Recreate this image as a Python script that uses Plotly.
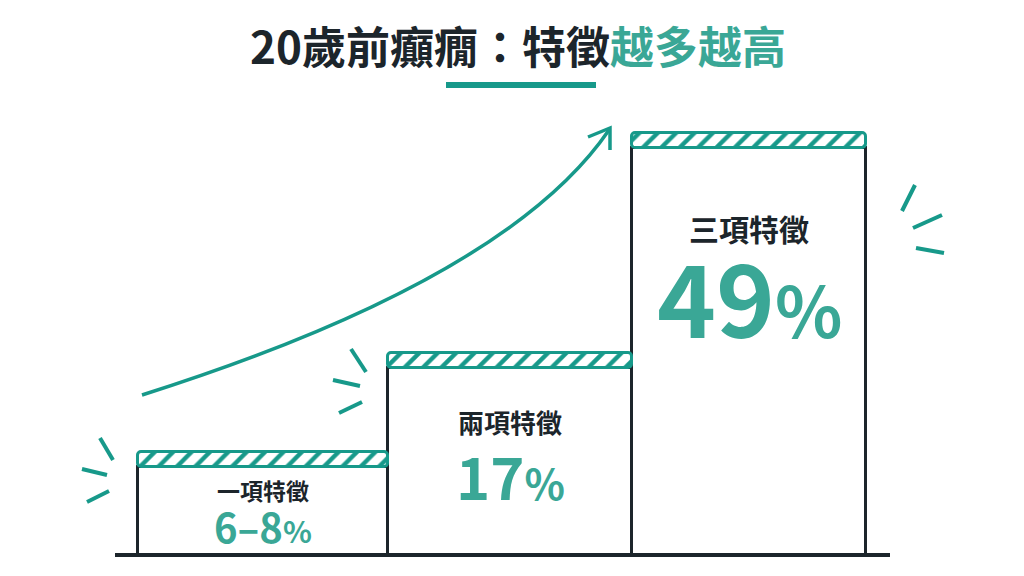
import plotly.graph_objects as go

# ---- data ----
categories = ["一項特徵", "兩項特徵", "三項特徵"]
value_labels = ["6–8", "17", "49"]
step_heights = [103, 202, 422]          # visual step heights (picture units)
title_dark = "20歲前癲癇：特徵"
title_teal = "越多越高"

# ---- style / layout constants ----
W, H = 1024, 576
BASE_PY = 555                           # baseline pixel row
DARK = "#1c252b"
TEAL = "#17998a"
TEAL_TXT = "#3aa796"
FONT = "Noto Sans CJK TC"
bar_edges = [138, 388, 632, 866]
cap_h = 15
label_offsets = [38, 68, 95]
value_offsets = [74, 122, 161]
label_sizes = [23, 26, 30]
digit_sizes = [40, 58, 100]
pct_sizes = [30, 42, 70]


def py(p):
    return BASE_PY - p


centers = [(bar_edges[i] + bar_edges[i + 1]) / 2 for i in range(3)]
widths = [bar_edges[i + 1] - bar_edges[i] for i in range(3)]

fig = go.Figure()
fig.add_trace(go.Bar(
    x=centers, y=[h - cap_h for h in step_heights], base=0, width=widths,
    marker=dict(color="white", line=dict(color=DARK, width=3)),
    hoverinfo="skip", showlegend=False))
fig.add_trace(go.Bar(
    x=centers, y=[cap_h] * 3, base=[h - cap_h for h in step_heights], width=widths,
    marker=dict(color="white", line=dict(color=TEAL, width=3), cornerradius=4,
                pattern=dict(shape="/", fgcolor=TEAL, fgopacity=1, bgcolor="white",
                             size=13, solidity=0.33)),
    hoverinfo="skip", showlegend=False))

shapes = []
# baseline
shapes.append(dict(type="line", x0=115, x1=890, y0=0, y1=0, line=dict(color=DARK, width=4)))
# title underline
shapes.append(dict(type="line", x0=446, x1=596, y0=py(85), y1=py(85), line=dict(color=TEAL, width=6)))
# growth arrow
shapes.append(dict(type="path",
                   path=f"M 142,{py(395)} C 300,{py(345)} 520,{py(260)} 609,{py(130)}",
                   line=dict(color=TEAL, width=3.5)))
shapes.append(dict(type="path",
                   path=f"M 588,{py(137)} L 610,{py(128)} L 610,{py(150)}",
                   line=dict(color=TEAL, width=3.5)))
# spark lines
sparks = [
    ((100, 438), (113, 460)), ((82, 469), (107, 475)), ((87, 502), (109, 491)),
    ((351, 349), (366, 372)), ((333, 380), (360, 386)), ((339, 413), (362, 402)),
    ((915, 185), (902, 211)), ((913, 228), (942, 215)), ((916, 248), (944, 253)),
]
for (a, b) in sparks:
    shapes.append(dict(type="line", x0=a[0], y0=py(a[1]), x1=b[0], y1=py(b[1]),
                       line=dict(color=TEAL, width=4)))

ann = []
ann.append(dict(x=518, y=py(45), xref="x", yref="y", showarrow=False,
                text=f"<b>{title_dark}<span style='color:{TEAL_TXT}'>{title_teal}</span></b>",
                font=dict(family=FONT, size=44, color=DARK)))
for i in range(3):
    ann.append(dict(x=centers[i], y=step_heights[i] - label_offsets[i], xref="x", yref="y",
                    showarrow=False, text=f"<b>{categories[i]}</b>",
                    font=dict(family=FONT, size=label_sizes[i], color=DARK)))
    ann.append(dict(x=centers[i], y=step_heights[i] - value_offsets[i], xref="x", yref="y",
                    showarrow=False,
                    text=f"<b>{value_labels[i]}<span style='font-size:{pct_sizes[i]}px'>%</span></b>",
                    font=dict(family=FONT, size=digit_sizes[i], color=TEAL_TXT)))

fig.update_layout(
    width=W, height=H, margin=dict(l=0, r=0, t=0, b=0),
    paper_bgcolor="white", plot_bgcolor="white",
    xaxis=dict(range=[0, W], visible=False, fixedrange=True),
    yaxis=dict(range=[BASE_PY - H, BASE_PY], visible=False, fixedrange=True),
    shapes=shapes, annotations=ann, barmode="overlay", bargap=0,
)
fig.write_html("out.html", config={"displayModeBar": False},
               post_script="document.body.style.margin='0';")
